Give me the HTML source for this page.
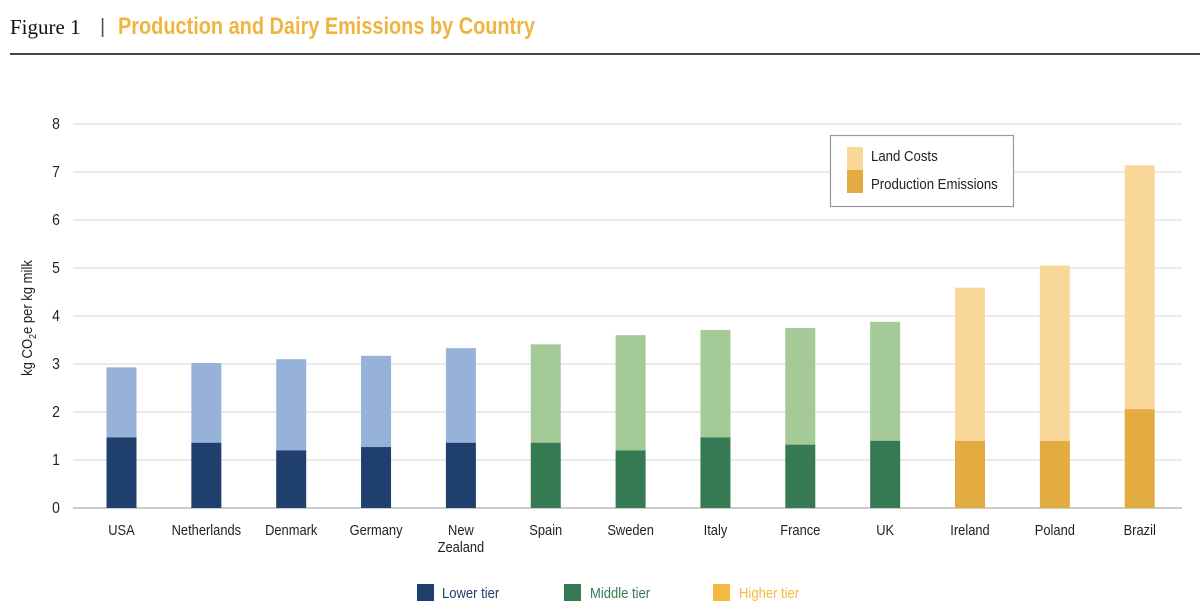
<!DOCTYPE html>
<html><head><meta charset="utf-8"><style>
html,body{margin:0;padding:0;background:#fff;}
svg{display:block;}
text{font-family:"Liberation Sans Narrow","Liberation Sans",sans-serif;}
</style></head><body>
<svg id="chart" width="1200" height="611" viewBox="0 0 1200 611">
  <text x="10" y="34" style="font-family:'Liberation Serif',serif" font-size="21" fill="#111">Figure 1</text>
  <text x="100" y="33" font-size="20" fill="#555">|</text>
  <text x="118" y="34" font-size="24" font-weight="bold" fill="#f0b441" textLength="417" lengthAdjust="spacingAndGlyphs">Production and Dairy Emissions by Country</text>
  <rect x="10" y="53" width="1190" height="2" fill="#444"/>
  <g id="grid"></g>
  <g id="bars"></g>
  <g id="xlabels"></g>
  <text transform="translate(32,318) rotate(-90) scale(0.87,1)" text-anchor="middle" font-size="15" fill="#222">kg CO<tspan font-size="10" dy="4">2</tspan><tspan dy="-4">e per kg milk</tspan></text>
  <g>
    <rect x="830.5" y="135.5" width="183" height="71" fill="#fff" stroke="#999" stroke-width="1.2"/>
    <rect x="847" y="147" width="16" height="23" fill="#f9d798"/>
    <rect x="847" y="170" width="16" height="23" fill="#e2ac41"/>
    <text transform="translate(871,161) scale(0.88,1)" font-size="15" fill="#222">Land Costs</text>
    <text transform="translate(871,189) scale(0.88,1)" font-size="15" fill="#222">Production Emissions</text>
  </g>
  <g>
    <rect x="417" y="584" width="17" height="17" fill="#1f3f6e"/>
    <text transform="translate(442,598) scale(0.87,1)" font-size="15" fill="#1f3f6e">Lower tier</text>
    <rect x="564" y="584" width="17" height="17" fill="#357a52"/>
    <text transform="translate(590,598) scale(0.87,1)" font-size="15" fill="#357a52">Middle tier</text>
    <rect x="713" y="584" width="17" height="17" fill="#f5b93f"/>
    <text transform="translate(739,598) scale(0.87,1)" font-size="15" fill="#f5b93f">Higher tier</text>
  </g>
</svg>
<script>
const countries = ["USA","Netherlands","Denmark","Germany","New Zealand","Spain","Sweden","Italy","France","UK","Ireland","Poland","Brazil"];
const totals = [2.93,3.02,3.10,3.17,3.33,3.41,3.60,3.71,3.75,3.88,4.59,5.05,7.14];
const production = [1.47,1.36,1.20,1.27,1.36,1.36,1.20,1.47,1.32,1.40,1.40,1.40,2.06];
const tiers = ["lower","lower","lower","lower","lower","middle","middle","middle","middle","middle","higher","higher","higher"];
const yTicks = [0,1,2,3,4,5,6,7,8];

const NS = "http://www.w3.org/2000/svg";
const colors = {lower:["#1f3f6e","#97b2d8"], middle:["#357a52","#a4ca98"], higher:["#e2ac41","#f9d798"]};
const plotL = 73, plotR = 1182, y0 = 508, yTop = 124;
function yScale(v){ return y0 - (v/8)*(y0-yTop); }
function xCenter(i){ return 121.5 + i*84.85; }
const barW = 30;

const grid = document.getElementById("grid");
yTicks.forEach(t=>{
  const y = yScale(t);
  const l = document.createElementNS(NS,"line");
  l.setAttribute("x1",plotL); l.setAttribute("x2",plotR);
  l.setAttribute("y1",y); l.setAttribute("y2",y);
  l.setAttribute("stroke", t===0 ? "#bbb" : "#ddd");
  l.setAttribute("stroke-width", t===0 ? 1.5 : 1.3);
  
  
  grid.appendChild(l);
  const tx = document.createElementNS(NS,"text");
  tx.setAttribute("transform","translate(56,"+(y+5)+") scale(0.87,1)");
  tx.setAttribute("text-anchor","middle"); tx.setAttribute("font-size","16"); tx.setAttribute("fill","#222");
  tx.textContent = t;
  
  
  grid.appendChild(tx);
});

const bars = document.getElementById("bars");
const xl = document.getElementById("xlabels");
countries.forEach((c,i)=>{
  const cx = xCenter(i), x = cx - barW/2;
  const col = colors[tiers[i]];
  const slug = c.toLowerCase().replace(/\s+/g,'-');
  const top = document.createElementNS(NS,"rect");
  top.setAttribute("x",x); top.setAttribute("width",barW);
  top.setAttribute("y",yScale(totals[i])); top.setAttribute("height",yScale(production[i])-yScale(totals[i]));
  top.setAttribute("fill",col[1]);
  
  
  bars.appendChild(top);
  const bot = document.createElementNS(NS,"rect");
  bot.setAttribute("x",x); bot.setAttribute("width",barW);
  bot.setAttribute("y",yScale(production[i])); bot.setAttribute("height",yScale(0)-yScale(production[i]));
  bot.setAttribute("fill",col[0]);
  
  
  bars.appendChild(bot);
  const t = document.createElementNS(NS,"text");
  t.setAttribute("transform","translate("+cx+",0) scale(0.86,1)");
  t.setAttribute("text-anchor","middle"); t.setAttribute("font-size","15"); t.setAttribute("fill","#222");
  const parts = c==="New Zealand" ? ["New","Zealand"] : [c];
  parts.forEach((p,k)=>{
    const ts = document.createElementNS(NS,"tspan");
    ts.setAttribute("x",0); ts.setAttribute("y",535+k*17);
    ts.textContent = p;
    t.appendChild(ts);
  });
  
  
  xl.appendChild(t);
});
</script>
</body></html>
